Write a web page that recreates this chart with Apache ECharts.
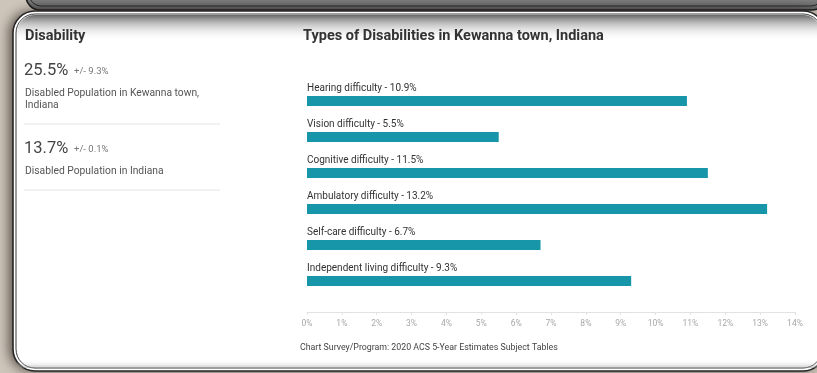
<!DOCTYPE html>
<html>
<head>
<meta charset="utf-8">
<script src="https://cdn.jsdelivr.net/npm/echarts@6/dist/echarts.min.js"></script>
<style>
  html, body { margin: 0; padding: 0; background: #cdc5ba; }
  #chart { width: 817px; height: 373px; }
</style>
</head>
<body>
<div id="chart"></div>
<script>
// Disability types, Kewanna town, Indiana (2020 ACS 5-Year)
const categories = [
  'Hearing difficulty',
  'Vision difficulty',
  'Cognitive difficulty',
  'Ambulatory difficulty',
  'Self-care difficulty',
  'Independent living difficulty'
];
const percentages = [10.9, 5.5, 11.5, 13.2, 6.7, 9.3];
const axisMax = 14;

// Summary figures shown on the left side
const summaryValues = ['25.5%', '13.7%'];
const summaryMargins = ['+/- 9.3%', '+/- 0.1%'];
const summaryLabels = [
  ['Disabled Population in Kewanna town,', 'Indiana'],
  ['Disabled Population in Indiana']
];

const FONT = 'Roboto, "Noto Sans", sans-serif';
const chart = echarts.init(document.getElementById('chart'));

const vGrad = (stops) => ({ type: 'linear', x: 0, y: 0, x2: 0, y2: 1, colorStops: stops });

const frame = [
  // page backdrop
  { type: 'rect', z: -20, silent: true, shape: { x: 0, y: 0, width: 817, height: 373 },
    style: { fill: '#cdc5ba' } },
  // edge of the panel above
  { type: 'rect', z: -19, silent: true, shape: { x: 26, y: -40, width: 800, height: 50, r: 14 },
    style: { fill: vGrad([{ offset: 0, color: '#8a8a8a' }, { offset: 0.8, color: '#7a7a7a' }, { offset: 1, color: '#5a5a5a' }]),
             stroke: '#1a1a1a', lineWidth: 1.6 } },
  { type: 'rect', z: -19, silent: true, shape: { x: 29, y: -40, width: 794, height: 46, r: 12 },
    style: { fill: 'none', stroke: '#262626', lineWidth: 1 } },
  // main card with shadow
  { type: 'rect', z: -18, silent: true, shape: { x: 13, y: 11, width: 812, height: 360, r: 22 },
    style: { fill: '#8a8480', shadowColor: 'rgba(40,30,25,0.7)', shadowBlur: 12, shadowOffsetX: -4, shadowOffsetY: 0 } },
  { type: 'rect', z: -17, silent: true, shape: { x: 13, y: 11, width: 812, height: 360, r: 22 },
    style: { fill: '#ffffff', stroke: '#262626', lineWidth: 1.6 } },
  { type: 'rect', z: -16, silent: true, shape: { x: 16, y: 14, width: 806, height: 354, r: 19 },
    style: { fill: 'none', stroke: '#3a3a3a', lineWidth: 1 } },
  // soft shading under the top edge
  { type: 'rect', z: -15, silent: true, shape: { x: 17, y: 15, width: 804, height: 26, r: [18, 18, 0, 0] },
    style: { fill: vGrad([{ offset: 0, color: 'rgba(95,95,95,0.95)' }, { offset: 0.3, color: 'rgba(140,140,140,0.6)' }, { offset: 1, color: 'rgba(255,255,255,0)' }]) } },
  { type: 'rect', z: -15, silent: true, shape: { x: 17, y: 360, width: 804, height: 8, r: [0, 0, 18, 18] },
    style: { fill: vGrad([{ offset: 0, color: 'rgba(255,255,255,0)' }, { offset: 1, color: 'rgba(150,150,150,0.5)' }]) } }
];

const summary = [
  { type: 'text', left: 25, top: 29, style: { text: 'Disability', font: 'bold 14.5px ' + FONT, fill: '#333' } }
];
const blockTops = [62, 140];
summaryValues.forEach((v, i) => {
  const top = blockTops[i];
  summary.push({ type: 'text', left: 24, top: top, style: { text: v, font: '16.5px ' + FONT, fill: '#444' } });
  summary.push({ type: 'text', left: 74, top: top + 5, style: { text: summaryMargins[i], font: '9.5px ' + FONT, fill: '#777' } });
  summaryLabels[i].forEach((line, j) => {
    summary.push({ type: 'text', left: 25, top: top + 26 + j * 12, style: { text: line, font: '10.3px ' + FONT, fill: '#555' } });
  });
  const lineY = i === 0 ? 124 : 190;
  summary.push({ type: 'line', shape: { x1: 24, y1: lineY, x2: 220, y2: lineY }, style: { stroke: '#e4e4e4', lineWidth: 1 } });
});
summary.push({ type: 'text', left: 300, top: 343,
  style: { text: 'Chart Survey/Program: 2020 ACS 5-Year Estimates Subject Tables', font: '8.8px ' + FONT, fill: '#444' } });

chart.setOption({
  animation: false,
  title: {
    text: 'Types of Disabilities in Kewanna town, Indiana',
    left: 303, top: 29, padding: 0,
    textStyle: { fontFamily: FONT, fontSize: 14.5, fontWeight: 'bold', color: '#333' }
  },
  graphic: frame.concat(summary),
  grid: { left: 307, right: 22, top: 83, bottom: 74 },
  xAxis: {
    type: 'value', min: 0, max: axisMax, interval: 1, offset: 13,
    axisLine: { show: true, lineStyle: { color: '#e2e2e2' } },
    axisTick: { show: true, length: 3, lineStyle: { color: '#e2e2e2' } },
    splitLine: { show: false },
    axisLabel: { formatter: '{value}%', color: '#a8a8a8', fontSize: 8.5, fontFamily: FONT, margin: 7 }
  },
  yAxis: {
    type: 'category', inverse: true, data: categories,
    axisLine: { show: false }, axisTick: { show: false }, axisLabel: { show: false }
  },
  series: [{
    type: 'bar',
    data: percentages,
    barWidth: 10,
    itemStyle: { color: '#1795a9' },
    label: {
      show: true,
      position: [0, -8],
      align: 'left',
      verticalAlign: 'middle',
      formatter: (p) => p.name + ' - ' + p.value + '%',
      fontFamily: FONT, fontSize: 10, color: '#333'
    }
  }]
});
</script>
</body>
</html>
